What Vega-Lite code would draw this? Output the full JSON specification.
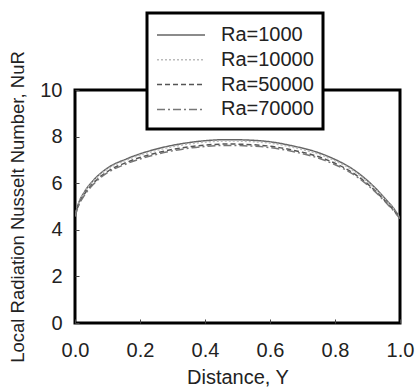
{
  "$schema": "https://vega.github.io/schema/vega-lite/v6.json",
  "width": 325,
  "height": 233,
  "autosize": "none",
  "padding": {"left": 75, "top": 90, "right": 15, "bottom": 69},
  "background": "white",
  "config": {
    "font": "Liberation Sans",
    "view": {"stroke": "black", "strokeWidth": 3}
  },
  "data": {
    "values": [
      {"Y": 0.0, "Nu": 4.6, "Ra": "Ra=1000"},
      {"Y": 0.01, "Nu": 5.1, "Ra": "Ra=1000"},
      {"Y": 0.03, "Nu": 5.65, "Ra": "Ra=1000"},
      {"Y": 0.055, "Nu": 6.1, "Ra": "Ra=1000"},
      {"Y": 0.1, "Nu": 6.65, "Ra": "Ra=1000"},
      {"Y": 0.16, "Nu": 7.05, "Ra": "Ra=1000"},
      {"Y": 0.26, "Nu": 7.5, "Ra": "Ra=1000"},
      {"Y": 0.36, "Nu": 7.76, "Ra": "Ra=1000"},
      {"Y": 0.47, "Nu": 7.87, "Ra": "Ra=1000"},
      {"Y": 0.57, "Nu": 7.82, "Ra": "Ra=1000"},
      {"Y": 0.67, "Nu": 7.6, "Ra": "Ra=1000"},
      {"Y": 0.77, "Nu": 7.2, "Ra": "Ra=1000"},
      {"Y": 0.87, "Nu": 6.45, "Ra": "Ra=1000"},
      {"Y": 0.92, "Nu": 5.85, "Ra": "Ra=1000"},
      {"Y": 0.96, "Nu": 5.25, "Ra": "Ra=1000"},
      {"Y": 0.98, "Nu": 4.93, "Ra": "Ra=1000"},
      {"Y": 1.0, "Nu": 4.5, "Ra": "Ra=1000"},

      {"Y": 0.0, "Nu": 4.6, "Ra": "Ra=10000"},
      {"Y": 0.01, "Nu": 5.08, "Ra": "Ra=10000"},
      {"Y": 0.03, "Nu": 5.62, "Ra": "Ra=10000"},
      {"Y": 0.055, "Nu": 6.06, "Ra": "Ra=10000"},
      {"Y": 0.1, "Nu": 6.6, "Ra": "Ra=10000"},
      {"Y": 0.16, "Nu": 7.0, "Ra": "Ra=10000"},
      {"Y": 0.26, "Nu": 7.44, "Ra": "Ra=10000"},
      {"Y": 0.36, "Nu": 7.7, "Ra": "Ra=10000"},
      {"Y": 0.47, "Nu": 7.81, "Ra": "Ra=10000"},
      {"Y": 0.57, "Nu": 7.76, "Ra": "Ra=10000"},
      {"Y": 0.67, "Nu": 7.54, "Ra": "Ra=10000"},
      {"Y": 0.77, "Nu": 7.14, "Ra": "Ra=10000"},
      {"Y": 0.87, "Nu": 6.4, "Ra": "Ra=10000"},
      {"Y": 0.92, "Nu": 5.8, "Ra": "Ra=10000"},
      {"Y": 0.96, "Nu": 5.21, "Ra": "Ra=10000"},
      {"Y": 0.98, "Nu": 4.9, "Ra": "Ra=10000"},
      {"Y": 1.0, "Nu": 4.5, "Ra": "Ra=10000"},

      {"Y": 0.0, "Nu": 4.58, "Ra": "Ra=50000"},
      {"Y": 0.01, "Nu": 5.03, "Ra": "Ra=50000"},
      {"Y": 0.03, "Nu": 5.55, "Ra": "Ra=50000"},
      {"Y": 0.055, "Nu": 5.98, "Ra": "Ra=50000"},
      {"Y": 0.1, "Nu": 6.5, "Ra": "Ra=50000"},
      {"Y": 0.16, "Nu": 6.9, "Ra": "Ra=50000"},
      {"Y": 0.26, "Nu": 7.33, "Ra": "Ra=50000"},
      {"Y": 0.36, "Nu": 7.58, "Ra": "Ra=50000"},
      {"Y": 0.47, "Nu": 7.68, "Ra": "Ra=50000"},
      {"Y": 0.57, "Nu": 7.63, "Ra": "Ra=50000"},
      {"Y": 0.67, "Nu": 7.42, "Ra": "Ra=50000"},
      {"Y": 0.77, "Nu": 7.03, "Ra": "Ra=50000"},
      {"Y": 0.87, "Nu": 6.3, "Ra": "Ra=50000"},
      {"Y": 0.92, "Nu": 5.72, "Ra": "Ra=50000"},
      {"Y": 0.96, "Nu": 5.15, "Ra": "Ra=50000"},
      {"Y": 0.98, "Nu": 4.85, "Ra": "Ra=50000"},
      {"Y": 1.0, "Nu": 4.48, "Ra": "Ra=50000"},

      {"Y": 0.0, "Nu": 4.57, "Ra": "Ra=70000"},
      {"Y": 0.01, "Nu": 5.0, "Ra": "Ra=70000"},
      {"Y": 0.03, "Nu": 5.5, "Ra": "Ra=70000"},
      {"Y": 0.055, "Nu": 5.93, "Ra": "Ra=70000"},
      {"Y": 0.1, "Nu": 6.45, "Ra": "Ra=70000"},
      {"Y": 0.16, "Nu": 6.84, "Ra": "Ra=70000"},
      {"Y": 0.26, "Nu": 7.27, "Ra": "Ra=70000"},
      {"Y": 0.36, "Nu": 7.52, "Ra": "Ra=70000"},
      {"Y": 0.47, "Nu": 7.62, "Ra": "Ra=70000"},
      {"Y": 0.57, "Nu": 7.57, "Ra": "Ra=70000"},
      {"Y": 0.67, "Nu": 7.36, "Ra": "Ra=70000"},
      {"Y": 0.77, "Nu": 6.97, "Ra": "Ra=70000"},
      {"Y": 0.87, "Nu": 6.25, "Ra": "Ra=70000"},
      {"Y": 0.92, "Nu": 5.68, "Ra": "Ra=70000"},
      {"Y": 0.96, "Nu": 5.12, "Ra": "Ra=70000"},
      {"Y": 0.98, "Nu": 4.82, "Ra": "Ra=70000"},
      {"Y": 1.0, "Nu": 4.47, "Ra": "Ra=70000"}
    ]
  },
  "mark": {"type": "line", "interpolate": "monotone", "strokeWidth": 1.5, "clip": true},
  "encoding": {
    "x": {
      "field": "Y",
      "type": "quantitative",
      "scale": {"domain": [0, 1], "nice": false},
      "axis": {
        "title": "Distance, Y",
        "values": [0, 0.2, 0.4, 0.6, 0.8, 1.0],
        "format": ".1f",
        "grid": false,
        "domain": false,
        "labelFlush": false,
        "tickSize": -4,
        "tickColor": "#444",
        "labelPadding": 21,
        "labelFontSize": 20,
        "labelColor": "#222",
        "titleFontSize": 20,
        "titleFontWeight": "normal",
        "titleColor": "#222",
        "titlePadding": 7
      }
    },
    "y": {
      "field": "Nu",
      "type": "quantitative",
      "scale": {"domain": [0, 10], "nice": false},
      "axis": {
        "title": "Local Radiation Nusselt Number, NuR",
        "values": [0, 2, 4, 6, 8, 10],
        "grid": false,
        "domain": false,
        "labelFlush": false,
        "tickSize": -4,
        "tickColor": "#444",
        "labelPadding": 17,
        "labelFontSize": 20,
        "labelColor": "#222",
        "titleFontSize": 18.5,
        "titleFontWeight": "normal",
        "titleColor": "#222",
        "titlePadding": 12
      }
    },
    "color": {
      "field": "Ra",
      "type": "nominal",
      "scale": {
        "domain": ["Ra=1000", "Ra=10000", "Ra=50000", "Ra=70000"],
        "range": ["#666666", "#bbbbbb", "#555555", "#777777"]
      },
      "legend": {
        "title": null,
        "orient": "none",
        "legendX": 72,
        "legendY": -77,
        "fillColor": "white",
        "strokeColor": "black",
        "padding": 9,
        "rowPadding": 1.8,
        "symbolType": "M-1,0H3",
        "symbolSize": 576,
        "symbolStrokeWidth": 1.5,
        "labelFontSize": 20,
        "labelColor": "#222",
        "labelOffset": 39,
        "encode": {"legend": {"update": {"strokeWidth": {"value": 3}}}}
      }
    },
    "strokeDash": {
      "field": "Ra",
      "type": "nominal",
      "scale": {
        "domain": ["Ra=1000", "Ra=10000", "Ra=50000", "Ra=70000"],
        "range": [[1, 0], [2, 2], [5, 3], [8, 3, 2, 3]]
      },
      "legend": {
        "title": null,
        "orient": "none",
        "legendX": 72,
        "legendY": -77,
        "fillColor": "white",
        "strokeColor": "black",
        "padding": 9,
        "rowPadding": 1.8,
        "symbolType": "M-1,0H3",
        "symbolSize": 576,
        "symbolStrokeWidth": 1.5,
        "labelFontSize": 20,
        "labelColor": "#222",
        "labelOffset": 39,
        "encode": {"legend": {"update": {"strokeWidth": {"value": 3}}}}
      }
    }
  }
}
